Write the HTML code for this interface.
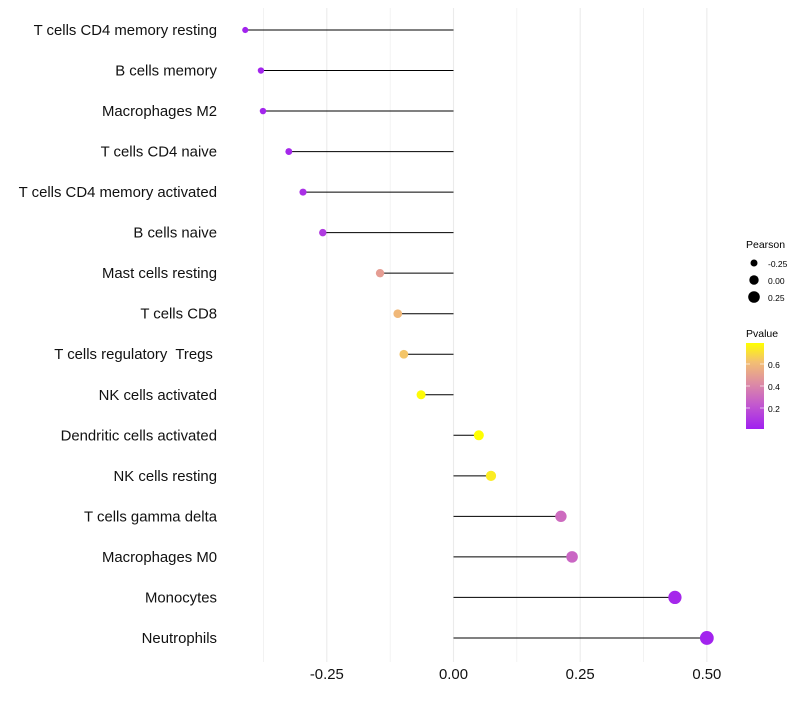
<!DOCTYPE html>
<html><head><meta charset="utf-8"><style>
body{margin:0;background:#fff;font-family:"Liberation Sans",sans-serif}
text{white-space:pre}
</style></head><body>
<svg id="chart" width="800" height="700" xmlns="http://www.w3.org/2000/svg" font-family="Liberation Sans, sans-serif">
<g id="grid"></g>
<g id="marks"></g>
<g id="ylabels"></g>
<g id="xlabels"></g>
<g>
<text x="746" y="248" font-size="10.5">Pearson</text>
<circle cx="754" cy="263" r="3.5" fill="#000"/>
<text x="768" y="267" font-size="8.5">-0.25</text>
<circle cx="754" cy="280" r="4.7" fill="#000"/>
<text x="768" y="284" font-size="8.5">0.00</text>
<circle cx="754" cy="297" r="5.8" fill="#000"/>
<text x="768" y="301" font-size="8.5">0.25</text>
</g>
<g>
<defs><linearGradient id="pg" x1="0" y1="1" x2="0" y2="0">
<stop offset="0" stop-color="#a020f0"/><stop offset="0.3" stop-color="#c55ccc"/><stop offset="0.55" stop-color="#df90a0"/><stop offset="0.78" stop-color="#f3bf72"/><stop offset="1" stop-color="#ffff00"/></linearGradient></defs>
<text x="746" y="337" font-size="10.5">Pvalue</text>
<rect x="746" y="343" width="18" height="86" fill="url(#pg)"/>
<g stroke="#fff" stroke-width="0.8" opacity="0.8"><line x1="746" x2="750" y1="364" y2="364"/><line x1="760" x2="764" y1="364" y2="364"/><line x1="746" x2="750" y1="386" y2="386"/><line x1="760" x2="764" y1="386" y2="386"/><line x1="746" x2="750" y1="408" y2="408"/><line x1="760" x2="764" y1="408" y2="408"/></g>
<text x="768" y="368" font-size="8.5">0.6</text>
<text x="768" y="390" font-size="8.5">0.4</text>
<text x="768" y="412" font-size="8.5">0.2</text>
</g>
</svg>
<script>
const categories=["T cells CD4 memory resting","B cells memory","Macrophages M2","T cells CD4 naive","T cells CD4 memory activated","B cells naive","Mast cells resting","T cells CD8","T cells regulatory  Tregs ","NK cells activated","Dendritic cells activated","NK cells resting","T cells gamma delta","Macrophages M0","Monocytes","Neutrophils"];
const pearson=[-0.411,-0.380,-0.376,-0.325,-0.297,-0.258,-0.145,-0.110,-0.098,-0.064,0.050,0.074,0.212,0.234,0.437,0.500];
const pvalue=[0.03,0.04,0.04,0.05,0.08,0.12,0.48,0.58,0.62,0.76,0.78,0.72,0.30,0.28,0.05,0.03];
const xTicks=[-0.25,0,0.25,0.5];
const xTickLabels=["-0.25","0.00","0.25","0.50"];
const NS="http://www.w3.org/2000/svg";
const x=v=>453.5+v*506.7;
const y=i=>30+i*40.53;
const r=v=>4.8+4.2*v;
const stops=[[0,[160,32,240]],[0.3,[197,92,204]],[0.55,[223,144,160]],[0.78,[243,191,114]],[1,[255,255,0]]];
function col(p){let t=(p-0.02)/(0.77-0.02);t=Math.max(0,Math.min(1,t));
for(let k=1;k<stops.length;k++){if(t<=stops[k][0]){const a=stops[k-1],b=stops[k],u=(t-a[0])/(b[0]-a[0]);
return "rgb("+a[1].map((c,j)=>Math.round(c+(b[1][j]-c)*u)).join(",")+")";}}return "rgb(255,255,0)";}
function mk(tag,at,parent){const e=document.createElementNS(NS,tag);for(const k in at)e.setAttribute(k,at[k]);document.getElementById(parent).appendChild(e);return e;}
for(let g=-0.375;g<=0.5001;g+=0.125){const l=mk("line",{x1:x(g),x2:x(g),y1:8,y2:662,stroke:"#ebebeb","stroke-width":g%0.25===0?1.1:0.6},"grid");

}
categories.forEach((c,i)=>{
const s=mk("line",{x1:x(0),x2:x(pearson[i]),y1:y(i),y2:y(i),stroke:"#000","stroke-width":1},"marks");


const d=mk("circle",{cx:x(pearson[i]),cy:y(i),r:r(pearson[i]),fill:col(pvalue[i])},"marks");


const t=mk("text",{x:217,y:y(i)+5,"text-anchor":"end","font-size":"14.9",fill:"#111"},"ylabels");
t.textContent=c;


});
xTicks.forEach((v,i)=>{const t=mk("text",{x:x(v),y:679,"text-anchor":"middle","font-size":"14.9",fill:"#111"},"xlabels");
t.textContent=xTickLabels[i];

});
</script>
</body></html>
